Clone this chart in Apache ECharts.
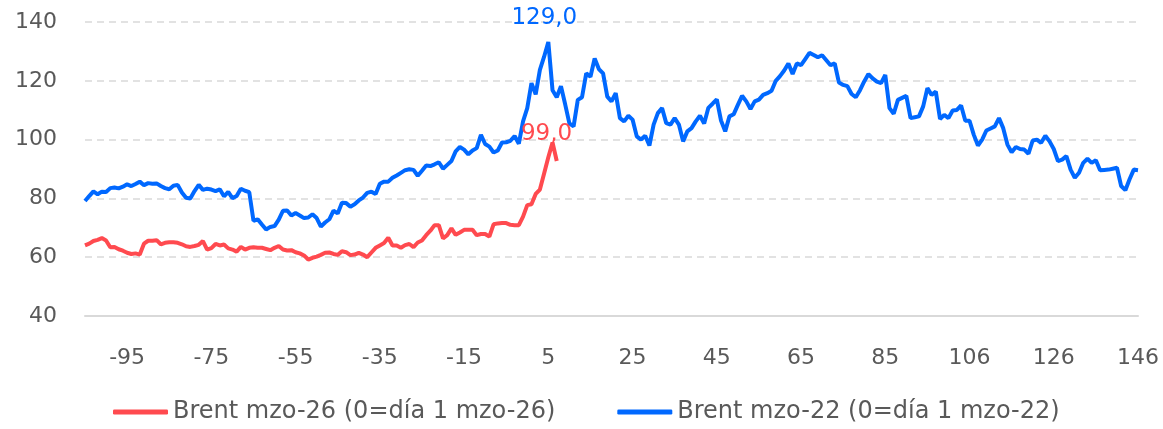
<!DOCTYPE html>
<html>
<head>
<meta charset="utf-8">
<script src="https://cdn.jsdelivr.net/npm/echarts@6/dist/echarts.min.js"></script>
<style>
	html, body { margin: 0; padding: 0; background: #fff; }
	#chart { width: 1163px; height: 429px; }
</style>
</head>
<body>
<div id="chart"></div>
<script>
	// dias respecto al 1 de marzo (falta un dia entre 85 y 106)
	var firstDay = -105, lastDay = 146, skippedDay = 100;
	var days = [];
	for (var d = firstDay; d <= lastDay; d++) {
		if (d !== skippedDay) days.push(String(d));
	}

	var brent26 = [
		64.0, 64.6, 65.5, 65.9, 66.5, 65.7, 63.4, 63.5, 62.7, 62.2,
		61.5, 61.1, 61.3, 60.9, 64.6, 65.6, 65.6, 65.8, 64.4, 64.9,
		65.1, 65.1, 64.9, 64.4, 63.7, 63.5, 63.8, 64.2, 65.5, 62.6,
		63.1, 64.5, 64.0, 64.3, 63.0, 62.6, 61.9, 63.5, 62.6, 63.2,
		63.4, 63.2, 63.2, 62.8, 62.4, 63.2, 63.8, 62.6, 62.3, 62.4,
		61.7, 61.3, 60.6, 59.2, 59.8, 60.2, 60.8, 61.5, 61.6, 61.1,
		60.8, 62.0, 61.7, 60.7, 60.9, 61.5, 60.9, 60.0, 61.6, 63.2,
		64.0, 64.8, 66.6, 64.0, 64.0, 63.2, 64.1, 64.5, 63.4, 65.0,
		65.7, 67.5, 69.0, 70.9, 70.9, 66.4, 67.5, 69.8, 67.6, 68.4,
		69.3, 69.3, 69.3, 67.5, 67.9, 67.9, 67.0, 71.2, 71.5, 71.6,
		71.6, 71.0, 70.9, 70.9, 73.8, 77.7, 78.0, 81.5, 83.0, 88.5,
		94.0, 99.0, 92.7
	];

	var brent22 = [
		79.1, 80.8, 82.4, 81.4, 82.3, 82.2, 83.5, 83.7, 83.4, 84.0,
		84.8, 84.2, 84.9, 85.7, 84.5, 85.2, 85.0, 85.1, 84.2, 83.5,
		83.1, 84.3, 84.6, 82.0, 80.2, 80.0, 82.5, 84.6, 82.9, 83.3,
		83.0, 82.5, 83.1, 80.7, 82.2, 80.1, 80.8, 83.3, 82.6, 82.1,
		72.4, 72.9, 71.1, 69.4, 70.3, 70.6, 72.8, 75.8, 75.9, 74.2,
		75.0, 74.2, 73.3, 73.5, 74.6, 73.3, 70.4, 71.8, 72.9, 75.8,
		74.9, 78.5, 78.4, 77.2, 78.0, 79.3, 80.3, 81.9, 82.3, 81.5,
		85.0, 85.7, 85.7, 87.0, 87.8, 88.7, 89.6, 89.9, 89.7, 87.7,
		89.4, 91.2, 91.0, 91.6, 92.3, 90.1, 91.4, 92.7, 96.0, 97.5,
		96.6, 95.0, 96.3, 97.1, 101.6, 98.5, 97.6, 95.6, 96.3, 99.0,
		99.1, 99.6, 101.2, 98.6, 106.2, 110.7, 119.2, 115.4, 123.7, 128.2,
		133.2, 116.8, 114.4, 118.2, 112.0, 105.5, 104.5, 113.5, 114.4, 122.5,
		121.4, 127.6, 124.0, 122.5, 114.6, 113.0, 115.8, 107.3, 106.2, 108.1,
		106.8, 101.1, 100.0, 101.3, 98.0, 105.1, 109.0, 110.7, 105.6, 105.1,
		107.3, 105.1, 99.4, 102.8, 103.9, 106.2, 108.1, 105.5, 110.8, 112.2,
		113.7, 106.5, 102.8, 107.9, 108.6, 111.8, 114.9, 113.0, 110.4, 113.0,
		113.6, 115.2, 115.8, 116.6, 120.0, 121.6, 123.5, 125.9, 122.3, 125.9,
		125.3, 127.4, 129.5, 128.8, 128.0, 128.7, 127.0, 125.3, 125.9, 119.4,
		118.6, 118.2, 115.5, 114.4, 116.8, 119.8, 122.3, 120.8, 119.7, 119.2,
		122.0, 110.7, 108.8, 113.5, 114.2, 114.9, 107.3, 107.6, 107.9, 111.3,
		117.5, 115.2, 116.3, 107.0, 108.4, 107.3, 109.9, 110.1, 111.6, 106.4,
		106.4, 101.7, 98.0, 100.0, 103.1, 103.8, 104.5, 107.3, 103.9, 98.3,
		95.7, 97.5, 96.8, 96.6, 95.2, 99.7, 100.0, 98.9, 101.3, 99.4,
		96.8, 92.7, 93.2, 94.4, 89.8, 87.0, 88.7, 92.1, 93.5, 92.1,
		93.0, 89.6, 89.7, 89.8, 90.1, 90.4, 84.2, 82.8, 86.5, 89.8,
		89.6
	];

	// etiquetas de los maximos
	var peak26 = { index: 111, text: '99,0' };
	var peak22 = { index: 110, text: '129,0' };

	var names = ['Brent mzo-26 (0=día 1 mzo-26)', 'Brent mzo-22 (0=día 1 mzo-22)'];
	var colors = ['#ff4a4f', '#0068ff'];
	var yMin = 40, yMax = 140, yStep = 20;

	var font = 'DejaVu Sans';
	var textColor = '#595959';

	var myChart = echarts.init(document.getElementById('chart'));

	var option = {
		animation: false,
		textStyle: { fontFamily: font },
		color: colors,
		grid: { left: 85, right: 25, top: 22, bottom: 113 },
		legend: {
			left: 113,
			top: 400,
			padding: 0,
			icon: 'roundRect',
			itemWidth: 55,
			itemHeight: 5,
			itemGap: 62,
			textStyle: { fontFamily: font, fontSize: 24, color: textColor },
			data: names
		},
		xAxis: {
			type: 'category',
			boundaryGap: false,
			data: days,
			axisLine: { lineStyle: { color: '#d9d9d9', width: 2 } },
			axisTick: { show: false },
			axisLabel: {
				interval: function (i) { return (i - 10) % 20 === 0; },
				margin: 31,
				fontFamily: font,
				fontSize: 22,
				color: textColor
			},
			splitLine: { show: false }
		},
		yAxis: {
			type: 'value',
			min: yMin,
			max: yMax,
			interval: yStep,
			axisLine: { show: false },
			axisTick: { show: false },
			axisLabel: { margin: 28, fontFamily: font, fontSize: 22, color: textColor },
			splitLine: { lineStyle: { color: '#d9d9d9', width: 1.5, type: [7, 5] } }
		},
		series: [
			{
				name: names[0],
				type: 'line',
				data: brent26,
				showSymbol: false,
				lineStyle: { width: 4, color: colors[0] },
				z: 3,
				markPoint: {
					symbol: 'circle',
					symbolSize: 0,
					label: {
						show: true, position: 'top', distance: -3, offset: [-6, 0],
						fontFamily: font, fontSize: 23, color: colors[0],
						formatter: peak26.text
					},
					data: [{ coord: [days[peak26.index], brent26[peak26.index]] }]
				}
			},
			{
				name: names[1],
				type: 'line',
				data: brent22,
				showSymbol: false,
				lineStyle: { width: 4, color: colors[1] },
				z: 2,
				markPoint: {
					symbol: 'circle',
					symbolSize: 0,
					label: {
						show: true, position: 'top', distance: 12, offset: [-4, 0],
						fontFamily: font, fontSize: 23, color: colors[1],
						formatter: peak22.text
					},
					data: [{ coord: [days[peak22.index], brent22[peak22.index]] }]
				}
			}
		]
	};
	myChart.setOption(option);
</script>
</body>
</html>
